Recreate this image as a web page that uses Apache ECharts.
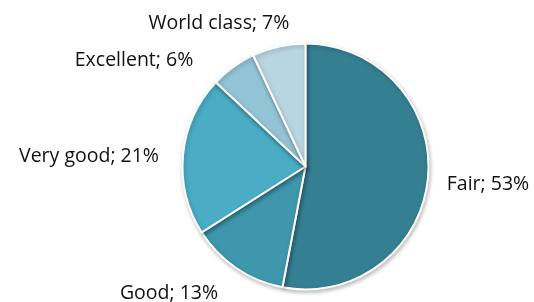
<!DOCTYPE html>
<html><head><meta charset="utf-8">
<script src="https://cdn.jsdelivr.net/npm/echarts@6/dist/echarts.min.js"></script>
<style>html,body{margin:0;padding:0;background:#fff}#c{width:534px;height:302px}</style>
</head><body><div id="c"></div>
<script>
const categories = ['Fair', 'Good', 'Very good', 'Excellent', 'World class'];
const values = [53, 13, 21, 6, 7];

const colors = ['#357f93', '#3e97ad', '#4aacc5', '#93c4d6', '#b8d6e2'];
// label anchor points (text centre), pixels
const labelPos = [[488, 184], [169, 293], [89, 156], [134, 60], [219, 23]];

const chart = echarts.init(document.getElementById('c'), null, {renderer: 'canvas'});
chart.setOption({
  animation: false,
  series: [{
    type: 'pie',
    center: [305.5, 166.5],
    radius: [0, 123],
    startAngle: 90,
    clockwise: true,
    data: categories.map((n, i) => ({name: n, value: values[i], itemStyle: {color: colors[i]}})),
    itemStyle: {borderColor: '#fff', borderWidth: 2, shadowColor: 'rgba(0,0,0,0.25)', shadowBlur: 4, shadowOffsetX: 1, shadowOffsetY: 2},
    label: {
      show: true, position: 'outside', overflow: 'none', alignTo: 'none',
      formatter: p => p.name + '; ' + p.value + '%',
      fontFamily: 'Open Sans', fontSize: 19.5, color: '#111'
    },
    labelLine: {show: false},
    labelLayout: p => ({x: labelPos[p.dataIndex][0], y: labelPos[p.dataIndex][1], align: 'center', verticalAlign: 'middle'})
  }]
});
</script></body></html>
